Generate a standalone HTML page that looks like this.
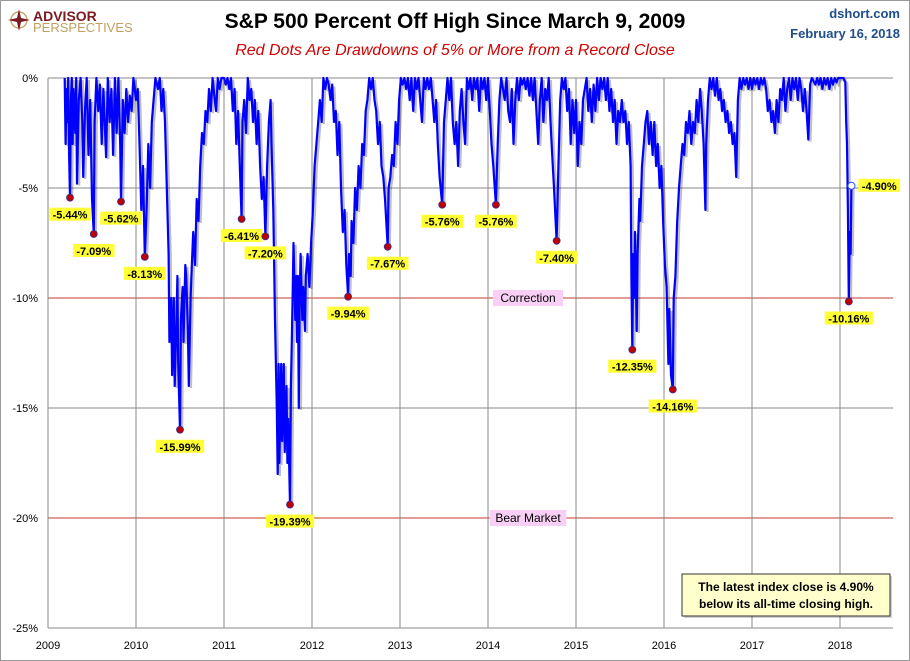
<!DOCTYPE html>
<html><head><meta charset="utf-8"><style>
html,body{margin:0;padding:0;background:#fff;}
svg{display:block;font-family:"Liberation Sans",Arial,sans-serif;}
</style></head><body>
<svg id="chart" width="910" height="661" viewBox="0 0 910 661">
<rect x="0.5" y="0.5" width="909" height="660" fill="#fff" stroke="#999"/>
<g>
<circle cx="19" cy="20" r="8" fill="none" stroke="#c8a86a" stroke-width="1.5"/>
<path d="M19 9 L21 18 L30 20 L21 22 L19 31 L17 22 L8 20 L17 18Z" fill="#7a1a22"/>
<text x="33" y="21" font-size="14" font-weight="bold" fill="#7a1a22">ADVISOR</text>
<text x="33" y="32" font-size="13" fill="#c0a060">PERSPECTIVES</text>
</g>
<text x="455" y="28" text-anchor="middle" font-size="21" font-weight="bold" fill="#000">S&amp;P 500 Percent Off High Since March 9, 2009</text>
<text x="455" y="55" text-anchor="middle" font-size="16" font-style="italic" fill="#d00000">Red Dots Are Drawdowns of 5% or More from a Record Close</text>
<text x="900" y="18" text-anchor="end" font-size="13" font-weight="bold" fill="#1f4e8c">dshort.com</text>
<text x="900" y="38" text-anchor="end" font-size="13" font-weight="bold" fill="#1f4e8c">February 16, 2018</text>
<g id="grid"></g>
<g id="series"></g>
<g id="marks"></g>
<g>
<rect x="684" y="576" width="208" height="42" fill="#000" opacity="0.18"/>
<rect x="682" y="574" width="208" height="42" fill="#ffffcc" stroke="#333"/>
<text x="786" y="591" text-anchor="middle" font-size="12" font-weight="bold">The latest index close is 4.90%</text>
<text x="786" y="608" text-anchor="middle" font-size="12" font-weight="bold">below its all-time closing high.</text>
</g>
</svg>
<script>
const yTicks=[0,-5,-10,-15,-20,-25];
const yTickLabels=["0%","-5%","-10%","-15%","-20%","-25%"];
const xYears=[2009,2010,2011,2012,2013,2014,2015,2016,2017,2018];
const seriesT=[2009.19,2009.2,2009.21,2009.22,2009.23,2009.24,2009.25,2009.26,2009.27,2009.28,2009.29,2009.31,2009.32,2009.33,2009.35,2009.37,2009.39,2009.4,2009.42,2009.44,2009.46,2009.48,2009.5,2009.52,2009.53,2009.55,2009.57,2009.59,2009.61,2009.63,2009.66,2009.68,2009.7,2009.72,2009.74,2009.76,2009.78,2009.8,2009.82,2009.83,2009.85,2009.87,2009.89,2009.91,2009.93,2009.95,2009.97,2010,2010.02,2010.04,2010.06,2010.08,2010.1,2010.12,2010.14,2010.16,2010.18,2010.2,2010.22,2010.25,2010.27,2010.29,2010.31,2010.33,2010.35,2010.37,2010.38,2010.4,2010.41,2010.43,2010.44,2010.46,2010.47,2010.48,2010.5,2010.51,2010.53,2010.54,2010.56,2010.57,2010.59,2010.6,2010.62,2010.63,2010.65,2010.67,2010.69,2010.71,2010.73,2010.75,2010.77,2010.79,2010.81,2010.83,2010.85,2010.87,2010.89,2010.91,2010.93,2010.95,2010.97,2011,2011.02,2011.04,2011.06,2011.08,2011.1,2011.12,2011.14,2011.16,2011.18,2011.2,2011.21,2011.23,2011.25,2011.27,2011.29,2011.31,2011.33,2011.35,2011.37,2011.39,2011.41,2011.43,2011.45,2011.47,2011.49,2011.51,2011.53,2011.54,2011.56,2011.58,2011.6,2011.61,2011.62,2011.63,2011.65,2011.66,2011.68,2011.69,2011.71,2011.72,2011.73,2011.75,2011.76,2011.77,2011.78,2011.79,2011.81,2011.82,2011.83,2011.84,2011.85,2011.86,2011.87,2011.89,2011.9,2011.92,2011.93,2011.95,2011.97,2011.99,2012.01,2012.03,2012.05,2012.07,2012.09,2012.11,2012.13,2012.15,2012.17,2012.19,2012.21,2012.23,2012.25,2012.27,2012.29,2012.31,2012.33,2012.35,2012.37,2012.39,2012.41,2012.42,2012.44,2012.45,2012.47,2012.49,2012.51,2012.53,2012.55,2012.57,2012.59,2012.61,2012.63,2012.65,2012.67,2012.69,2012.71,2012.73,2012.75,2012.77,2012.79,2012.81,2012.83,2012.86,2012.87,2012.89,2012.91,2012.93,2012.95,2012.97,2012.99,2013.01,2013.03,2013.05,2013.07,2013.09,2013.11,2013.13,2013.15,2013.17,2013.19,2013.21,2013.23,2013.25,2013.27,2013.29,2013.31,2013.33,2013.35,2013.37,2013.39,2013.41,2013.43,2013.45,2013.48,2013.5,2013.52,2013.54,2013.56,2013.58,2013.6,2013.62,2013.64,2013.66,2013.68,2013.7,2013.72,2013.74,2013.76,2013.78,2013.8,2013.82,2013.84,2013.86,2013.88,2013.9,2013.92,2013.94,2013.96,2013.98,2014,2014.02,2014.04,2014.06,2014.09,2014.11,2014.13,2014.15,2014.17,2014.19,2014.21,2014.23,2014.25,2014.27,2014.29,2014.31,2014.33,2014.35,2014.37,2014.39,2014.41,2014.43,2014.45,2014.47,2014.49,2014.51,2014.53,2014.55,2014.57,2014.59,2014.61,2014.63,2014.65,2014.67,2014.69,2014.71,2014.73,2014.75,2014.78,2014.8,2014.82,2014.84,2014.86,2014.88,2014.9,2014.92,2014.94,2014.96,2014.98,2015,2015.02,2015.04,2015.06,2015.08,2015.1,2015.12,2015.14,2015.16,2015.18,2015.2,2015.22,2015.24,2015.26,2015.28,2015.3,2015.32,2015.34,2015.36,2015.38,2015.4,2015.42,2015.44,2015.46,2015.48,2015.5,2015.52,2015.54,2015.56,2015.58,2015.6,2015.62,2015.63,2015.64,2015.65,2015.66,2015.67,2015.68,2015.69,2015.7,2015.72,2015.73,2015.75,2015.77,2015.79,2015.81,2015.83,2015.85,2015.87,2015.89,2015.91,2015.93,2015.95,2015.97,2015.99,2016.01,2016.03,2016.05,2016.06,2016.08,2016.1,2016.11,2016.13,2016.15,2016.17,2016.19,2016.21,2016.23,2016.25,2016.27,2016.29,2016.31,2016.33,2016.35,2016.37,2016.39,2016.41,2016.43,2016.45,2016.47,2016.48,2016.5,2016.52,2016.54,2016.56,2016.58,2016.6,2016.62,2016.64,2016.66,2016.68,2016.7,2016.72,2016.74,2016.76,2016.78,2016.8,2016.82,2016.84,2016.86,2016.88,2016.9,2016.92,2016.94,2016.96,2016.98,2017,2017.02,2017.04,2017.06,2017.08,2017.1,2017.12,2017.14,2017.16,2017.18,2017.2,2017.22,2017.24,2017.26,2017.28,2017.3,2017.32,2017.34,2017.36,2017.38,2017.4,2017.42,2017.44,2017.46,2017.48,2017.5,2017.52,2017.54,2017.56,2017.58,2017.6,2017.62,2017.64,2017.66,2017.68,2017.72,2017.74,2017.76,2017.78,2017.8,2017.82,2017.84,2017.86,2017.88,2017.9,2017.92,2017.94,2017.96,2017.98,2018,2018.02,2018.04,2018.06,2018.07,2018.08,2018.09,2018.1,2018.11,2018.12,2018.13];
const seriesV=[0,-3,-0.5,-2,0,-3.5,-5.44,-1,0,-3,-0.5,-2.5,0,-4.8,-1,0,-2,-4.5,-1.5,0,-3.5,-1,-5.5,-7.09,-2,0,-1.5,-0.3,-3,-0.5,-3.6,0,-2,-0.5,-3.5,0,-2.5,0,-3,-5.62,-1,-2.5,-0.5,-2,-0.8,-1.5,0,-1,-0.5,-3,-6,-4,-8.13,-6,-3,-5,-2,-1,0,-0.5,0,-1.5,-0.5,-2,-5,-8,-12,-10,-13.5,-10,-14,-11,-9,-13,-15.99,-11,-9.5,-12,-8.5,-9,-11.5,-14,-10,-9,-7,-8.5,-5.5,-6.5,-4,-2.5,-3,-1.5,-2,-0.5,-1.5,0,-0.8,-1.5,0,-0.5,0,0,-0.3,0,-0.5,0,-1.5,-0.5,-3,-1.5,-4,-6.41,-2,-1,-2.5,0,-1,-0.5,-2,-1,-3,-1.5,-4,-5.5,-4.5,-7.2,-4,-2,-1,-3,-6,-11,-15,-18,-13,-17.5,-13,-16.5,-13,-17,-14,-17.5,-15.5,-19.39,-14,-12,-10,-7.5,-11,-9,-12,-9,-15,-10,-8,-11,-9.5,-11.5,-9,-8,-9.5,-7.5,-6,-4,-3,-2,-1,-2,0,-0.5,0,-0.3,-1,-0.3,-2,-1.5,-3.5,-2,-5,-7,-6,-8.5,-9.94,-8,-9,-6.5,-7.5,-5,-6,-4,-5,-3,-3.5,-1.5,-1,0,-0.5,0,-1,-1.5,-3,-2,-4,-4.5,-5.5,-7.67,-5,-4.5,-3.5,-4,-2,-3,-1,0,-0.3,0,-0.5,0,-1,0,-1.5,0,-0.5,0,-1,-2,0,-0.5,0,-0.5,0,-1,-2,-1,-3,-4.5,-5.76,-2,-1,0,-1,0,-2,-3,-2,-4,-1.5,-0.5,-2,-3,0,-0.5,0,-1,0,-0.5,0,-1.5,0,-0.5,0,-1,0,-1.5,-3,-4,-5.76,-3,-1,0,-0.5,-1,0,-1.5,-2,-0.5,-3,-1,0,-1,0,-0.3,0,-0.5,0,-0.8,0,-1,0,-1.5,-3,-1,0,-2,-0.5,-1,0,-2,-3.5,-5,-7.4,-4,-1,0,-0.5,0,-1.5,-0.5,-3,-1,-2.5,-1,-4,-2,-3,-1,-0.5,0,-1.5,-0.5,-2,-0.3,-1.5,0,-1,0,-0.5,0,-1,0,-1.5,-0.5,-2,-1,-3,-1.5,-2,-1,-2,-1.5,-3,-2,-4,-9,-12.35,-8,-10,-7,-9,-11.5,-8,-5.5,-6.5,-4,-3,-2,-1.5,-3,-2,-3.5,-2,-4,-3,-5,-4,-6.5,-8.5,-9.5,-13,-10.5,-13.5,-14.16,-10,-9,-6.5,-5,-4,-3,-3.5,-2,-2.5,-1.5,-3,-2,-2.5,-1,-2,-0.5,-1.5,-3,-6,-3,-1,0,-0.5,0,-0.8,0,-1,-0.5,-1.5,-1,-2,-1.5,-2.5,-2,-3,-2.5,-4.5,-1,0,-0.5,0,-0.3,0,-0.5,0,-0.5,0,-0.3,0,-0.5,0,-0.3,0,-0.5,-1.5,-1,-2,-1.5,-2.5,-1,-2,-0.5,-1,0,-1.5,-0.5,0,-1,0,-0.5,0,-1,0,-0.5,-1.5,-0.5,-1.5,-2.8,-0.3,0,-0.3,0,-0.3,0,-0.5,0,-0.3,0,-0.5,0,-0.3,0,-0.2,0,0,0,0,-0.2,-2,-3,-6,-10.16,-7,-8,-4.9];
const dotT=[2009.25,2009.52,2009.83,2010.10,2010.50,2011.20,2011.47,2011.75,2012.41,2012.86,2013.48,2014.09,2014.78,2015.64,2016.10,2018.10];
const dotV=[-5.44,-7.09,-5.62,-8.13,-15.99,-6.41,-7.20,-19.39,-9.94,-7.67,-5.76,-5.76,-7.40,-12.35,-14.16,-10.16];
const latestT=2018.13, latestV=-4.90;

const X0=48,X1=893,Y0=78,Y1=628;
const xs=t=>X0+(t-2009)*88;
const ys=v=>Y0+(v/-25)*(Y1-Y0);
const NS="http://www.w3.org/2000/svg";
function mk(tag,attrs,parent){const e=document.createElementNS(NS,tag);for(const k in attrs)e.setAttribute(k,attrs[k]);parent.appendChild(e);return e;}
const grid=document.getElementById('grid');
yTicks.forEach((v,i)=>{
  const l=mk('line',{x1:X0,x2:X1,y1:ys(v),y2:ys(v),stroke:(v===-10||v===-20)?'#c0392b':'#888','stroke-width':1},grid);
  
  
  const t=mk('text',{x:X0-10,y:ys(v)+4,'text-anchor':'end','font-size':11},grid);
  t.textContent=yTickLabels[i];
  
  
});
xYears.forEach(yr=>{
  const l=mk('line',{x1:xs(yr),x2:xs(yr),y1:Y0,y2:Y1,stroke:'#888','stroke-width':1},grid);
  
  
  const t=mk('text',{x:xs(yr),y:Y1+21,'text-anchor':'middle','font-size':11},grid);
  t.textContent=String(yr);
  
  
});
const ax=mk('line',{x1:X0,x2:X1,y1:Y1,y2:Y1,stroke:'#888'},grid);


function band(txt,v,name){
  const g=mk('g',{},grid);
  
  
  const w=txt.length*6.6+4;
  mk('rect',{x:528-w/2,y:ys(v)-8,width:w,height:16,fill:'#f9d0f5'},g);
  const t=mk('text',{x:528,y:ys(v)+4,'text-anchor':'middle','font-size':12},g);
  t.textContent=txt;
}
band('Correction',-10,'correction-label');
band('Bear Market',-20,'bear-market-label');
const sg=document.getElementById('series');
const d=seriesT.map((t,i)=>(i?'L':'M')+xs(t).toFixed(1)+' '+ys(seriesV[i]).toFixed(1)).join(' ');
const sh=mk('path',{d:d,fill:'none',stroke:'#000','stroke-opacity':0.25,'stroke-width':2.5,transform:'translate(2,2)'},sg);


const line=mk('path',{d:d,fill:'none',stroke:'#0000ff','stroke-width':2.2,'stroke-linejoin':'round'},sg);


const mg=document.getElementById('marks');
function lbl(txt,x,y,anchor){
  const w=txt.length*6.6+2;
  const left=anchor==='start'?x:x-w/2;
  const r=mk('rect',{x:left,y:y-9,width:w,height:13,fill:'#ffff33'},mg);
  
  
  const t=mk('text',{x:left+w/2,y:y+2,'text-anchor':'middle','font-size':11,'font-weight':'bold'},mg);
  t.textContent=txt;
  
  
}
dotT.forEach((t,i)=>{
  const c=mk('circle',{cx:xs(t),cy:ys(dotV[i]),r:3.5,fill:'#c00000',stroke:'#3030a0','stroke-width':0.8},mg);
  
  
  lbl(dotV[i].toFixed(2)+'%',xs(t),ys(dotV[i])+19,'middle');
});
const lc=mk('circle',{cx:xs(latestT),cy:ys(latestV),r:3.5,fill:'#fff',stroke:'#3050ff','stroke-width':1},mg);


lbl(latestV.toFixed(2)+'%',xs(latestT)+7,ys(latestV)+2,'start');
</script>
</body></html>
